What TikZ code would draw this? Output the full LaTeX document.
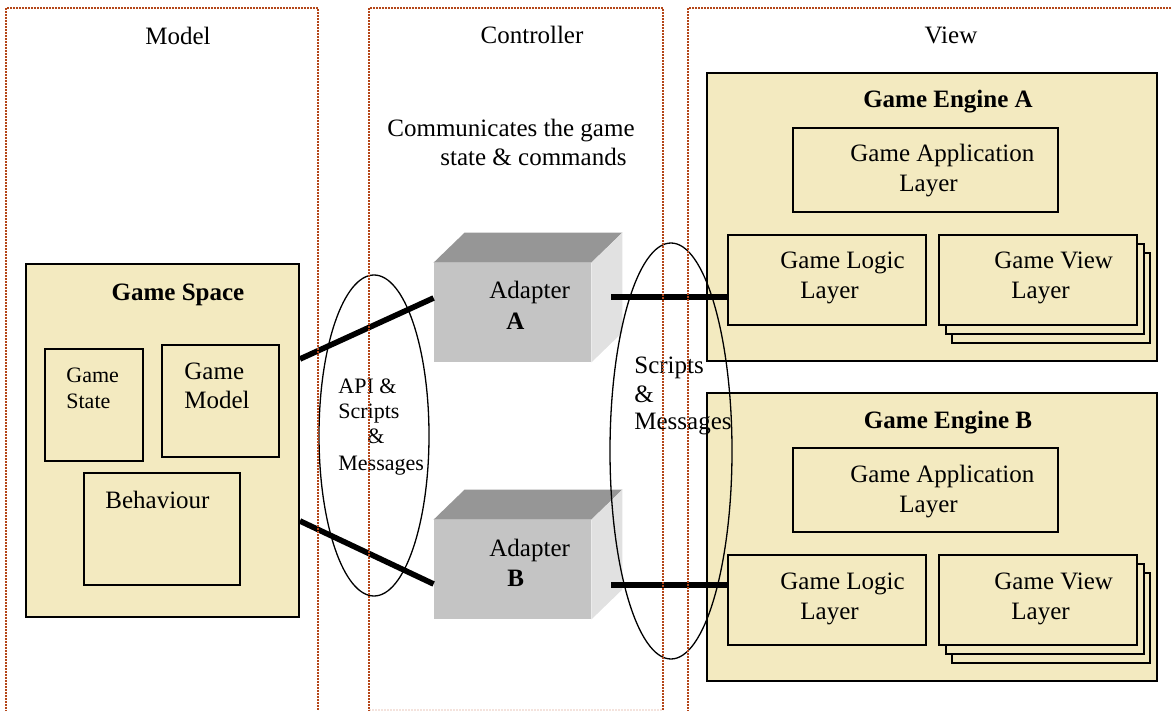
\documentclass[tikz,border=0pt]{standalone}
\usepackage{fontspec}
\setmainfont{Liberation Serif}
\usetikzlibrary{calc,shapes.geometric}
\definecolor{cream}{RGB}{243,234,192}
\definecolor{framecol}{RGB}{180,70,25}
\definecolor{cubefront}{RGB}{196,196,196}
\definecolor{cubetop}{RGB}{150,150,150}
\definecolor{cubeside}{RGB}{225,225,225}
\begin{document}
\begin{tikzpicture}[x=0.5pt,y=-0.5pt,
  box/.style={draw=black, line width=1pt, fill=cream, inner sep=0pt},
  lbl/.style={font=\fontsize{12.5}{15}\selectfont, inner sep=0pt},
  small/.style={font=\fontsize{11}{13}\selectfont, inner sep=0pt},
  bold/.style={font=\fontsize{12.5}{15}\selectfont\bfseries, inner sep=0pt},
  frame/.style={draw=framecol, line width=0.85pt, dash pattern=on 0.9pt off 0.6pt},
  conn/.style={line width=2.8pt},
  oval/.style={draw=black, line width=0.65pt, ellipse, inner sep=0pt},
  cube/.style={fill=cubefront, inner sep=0pt},
]
\useasboundingbox (0,0) rectangle (1172,711);

% ---------- Model ----------
\node[box, minimum width=136.5pt, minimum height=176.5pt] (gs) at (162.5,440.5) {};
\node[bold, anchor=base] (gsT) at (178,300) {Game Space};
\node[box, minimum width=49pt, minimum height=56pt] (gst) at (94,405) {};
\node[small, anchor=base west] (gstA) at (66,382) {Game};
\node[small, anchor=base west] (gstB) at (66,408) {State};
\node[box, minimum width=58.5pt, minimum height=56pt] (gm) at (220.5,401) {};
\node[lbl, anchor=base west] (gmA) at (184,379) {Game};
\node[lbl, anchor=base west] (gmB) at (184,408) {Model};
\node[box, minimum width=78pt, minimum height=56pt] (bh) at (162,529) {};
\node[lbl, anchor=base west] (bhT) at (105,508) {Behaviour};

% ---------- View ----------
\foreach \e/\dy/\L in {A/0/A, B/320/B}{
  \node[box, minimum width=225pt, minimum height=144pt] (eng\e) at (932,217+\dy) {};
  \node[bold, anchor=base] (eng\e T) at (948,108+\dy) {Game Engine \L};
  \node[box, minimum width=132.5pt, minimum height=42pt] (app\e) at (925.5,170+\dy) {};
  \node[lbl, anchor=base west] (app\e A) at (850,162+\dy) {Game Application};
  \node[lbl, anchor=base west] (app\e B) at (899,192+\dy) {Layer};
  \node[box, minimum width=99pt, minimum height=45pt] (log\e) at (827,280+\dy) {};
  \node[lbl, anchor=base west] (log\e A) at (780,269+\dy) {Game Logic};
  \node[lbl, anchor=base west] (log\e B) at (800,299+\dy) {Layer};
  \node[box, minimum width=99pt, minimum height=45pt] (vw\e 3) at (1051,298+\dy) {};
  \node[box, minimum width=99pt, minimum height=45pt] (vw\e 2) at (1044.5,289+\dy) {};
  \node[box, minimum width=99pt, minimum height=45pt] (vw\e) at (1038,280+\dy) {};
  \node[lbl, anchor=base west] (vw\e A) at (994,269+\dy) {Game View};
  \node[lbl, anchor=base west] (vw\e B) at (1011,299+\dy) {Layer};
}

% ---------- Controller ----------
\node[lbl, anchor=base west] (comA) at (387,137) {Communicates the game};
\node[lbl, anchor=base west] (comB) at (440,166) {state \& commands};

\foreach \a/\dy in {A/0, B/257}{
  \node[cube, minimum width=78.5pt, minimum height=49.5pt] (ad\a) at (512.5,312.5+\dy) {};
  \fill[cubetop] (ad\a.north west) -- ($(ad\a.north west)+(31,-30)$) -- ($(ad\a.north east)+(31,-30)$) -- (ad\a.north east) -- cycle;
  \fill[cubeside] (ad\a.north east) -- ($(ad\a.north east)+(31,-30)$) -- ($(ad\a.south east)+(31,-30)$) -- (ad\a.south east) -- cycle;
}
\node[lbl, anchor=base west] (adAT) at (489,299) {Adapter};
\node[bold, anchor=base west] (adAL) at (506,329) {A};
\node[lbl, anchor=base west] (adBT) at (489,556) {Adapter};
\node[bold, anchor=base west] (adBL) at (507,586) {B};

% ---------- ovals ----------
\node[oval, minimum width=55pt, minimum height=160.5pt] (ovL) at (374,435.5) {};
\node[small, anchor=base west] (ovL1) at (338,393) {API \&};
\node[small, anchor=base west] (ovL2) at (338,418) {Scripts};
\node[small, anchor=base west] (ovL3) at (367,443) {\&};
\node[small, anchor=base west] (ovL4) at (338,470) {Messages};
\node[oval, minimum width=61pt, minimum height=208pt] (ovR) at (671,451) {};
\node[lbl, anchor=base west] (ovR1) at (634,373) {Scripts};
\node[lbl, anchor=base west] (ovR2) at (634,402) {\&};
\node[lbl, anchor=base west] (ovR3) at (634,429) {Messages};

% ---------- connectors ----------
\draw[conn] ($(gs.north east)+(0,96)$) -- ($(adA.west)+(0,-14.5)$);
\draw[conn] ($(gs.north east)+(0,258)$) -- ($(adB.west)+(0,14.5)$);
\draw[conn] ($(adA.east)+(20,-15.5)$) -- ($(logA.west)+(0,17)$);
\draw[conn] ($(adB.east)+(20,15.5)$) -- ($(logB.west)+(0,-15)$);

% ---------- dotted frames ----------
\begin{scope}
\clip (0,0) rectangle (1172,711);
\draw[frame] (6,730) -- (6,8) -- (318,8) -- (318,730);
\draw[frame] (369,730) -- (369,8) -- (663,8) -- (663,730);
\draw[frame, opacity=0.15] (369,710) -- (663,710);
\draw[frame] (688,730) -- (688,8) -- (1190,8);
\end{scope}
\node[lbl, anchor=base] (tModel) at (178,45) {Model};
\node[lbl, anchor=base] (tCtrl) at (532,44) {Controller};
\node[lbl, anchor=base] (tView) at (951,44) {View};
\end{tikzpicture}
\end{document}
